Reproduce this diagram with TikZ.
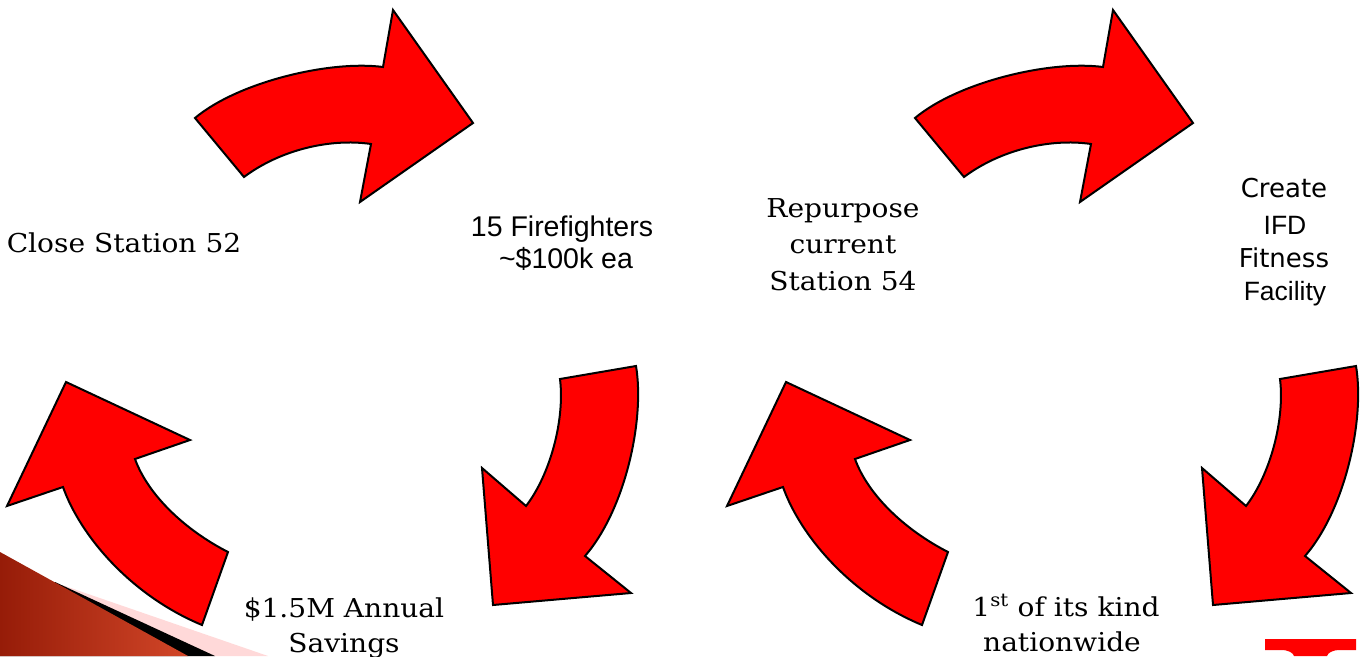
\documentclass[tikz,border=0pt]{standalone}
\usepackage{fontspec}
\newfontfamily\bkfont[FakeStretch=1.08]{DejaVu Serif}
\newfontfamily\arfont{Liberation Sans}
\newfontfamily\dvfont{DejaVu Sans}
\begin{document}
\begin{tikzpicture}[x=1pt,y=-1pt,
  arrowshape/.style={fill=red, draw=black, line width=2pt, line join=miter},
  serif/.style={inner sep=0pt, anchor=base, font=\bkfont\fontsize{26}{26}\selectfont},
  sansar/.style={inner sep=0pt, anchor=base, font=\arfont\fontsize{28.5}{28.5}\selectfont},
  sansdv/.style={inner sep=0pt, anchor=base, font=\dvfont\fontsize{26}{26}\selectfont},
  sansarb/.style={inner sep=0pt, anchor=base, font=\arfont\fontsize{26.5}{26.5}\selectfont}]
\useasboundingbox (0,0) rectangle (1368,656);
\fill[white] (0,0) rectangle (1368,656);

% bottom-left decoration
\fill[red!15] (62,585) -- (268,656) -- (0,656) -- cycle;
\fill[black] (55,582) -- (215,656) -- (0,656) -- cycle;
\shade[left color={rgb,255:red,150;green,28;blue,8}, right color={rgb,255:red,210;green,70;blue,40}]
  (0,552) -- (188,656) -- (0,656) -- cycle;

% logo fragment
\fill[red] (1265,639) -- (1356,639) -- (1356,650) -- (1340,650)
  .. controls (1332,650) and (1328,653) .. (1327,656) -- (1294,656)
  .. controls (1293,653) and (1289,650) .. (1281,650) -- (1265,650) -- cycle;

% right-pointing arrows (top)
\foreach \dx in {0,720}{
\begin{scope}[xshift=\dx]
\draw[arrowshape] (195,118) .. controls (238,82) and (330,60) .. (383,67)
  -- (393,10) -- (473,123) -- (360,202) -- (371,144)
  .. controls (330,138) and (280,150) .. (244,177) -- cycle;
\end{scope}}

% down-pointing arrows
\foreach \dx in {0,720}{
\begin{scope}[xshift=\dx]
\draw[arrowshape] (636,366) -- (560,379)
  .. controls (565,420) and (550,475) .. (526,506)
  -- (482,468) -- (493,605) -- (631,593) -- (585,556)
  .. controls (625,510) and (645,420) .. (636,366) -- cycle;
\end{scope}}

% up-pointing arrows
\foreach \dx in {0,720}{
\begin{scope}[xshift=\dx]
\draw[arrowshape] (66,382) -- (190,440) -- (135,459)
  .. controls (148,495) and (185,530) .. (228,552)
  -- (202,625)
  .. controls (130,595) and (80,535) .. (63,487)
  -- (7,506) -- cycle;
\end{scope}}

% texts
\node[serif] (close) at (124,252) {Close Station 52};

\node[sansar] (ffa) at (562,236) {15 Firefighters};
\node[sansar] (ffb) at (566,268) {\textasciitilde\$100k ea};

\node[serif] (repa) at (843,217) {Repurpose};
\node[serif] (repb) at (843,253) {current};
\node[serif] (repc) at (843,290) {Station 54};

\node[sansdv] (cra) at (1284,197) {Create};
\node[sansarb] (crb) at (1285,234) {IFD};
\node[sansdv] (crc) at (1284,267) {Fitness};
\node[sansarb] (crd) at (1285,300) {Facility};

\node[serif] (sava) at (344,617) {\$1.5M Annual};
\node[serif] (savb) at (344,652) {Savings};

\node[serif] (kinda) at (1066,616) {1\textsuperscript{st} of its kind};
\node[serif] (kindb) at (1062,651) {nationwide};
\end{tikzpicture}
\end{document}
